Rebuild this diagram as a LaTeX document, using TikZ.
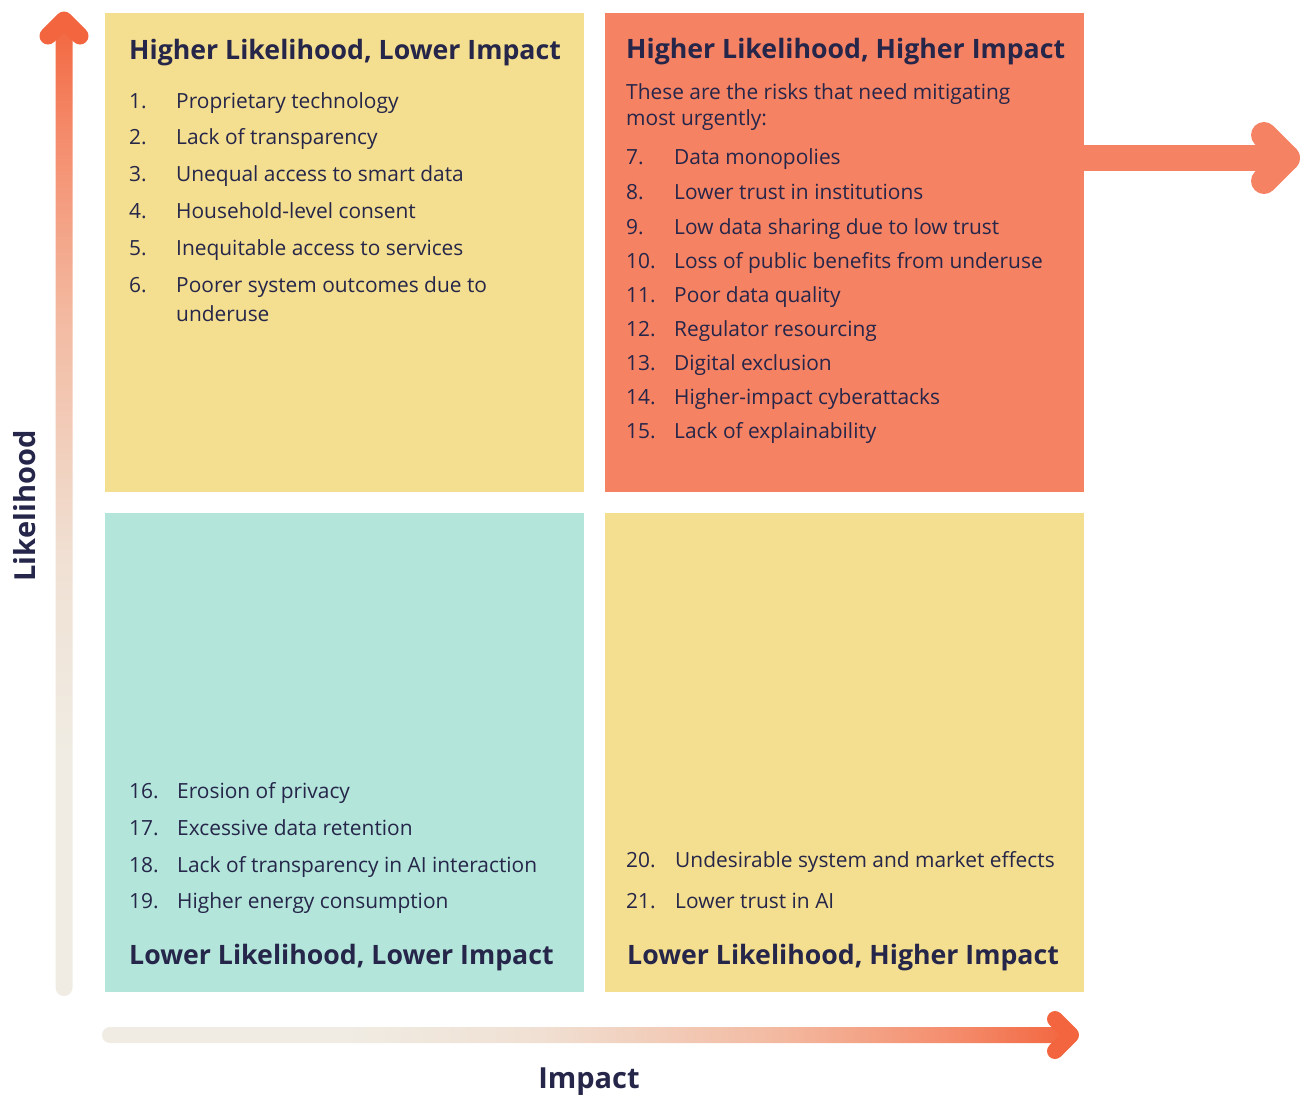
\documentclass[tikz,border=0pt]{standalone}
\usepackage{fontspec}
\setmainfont{Open Sans}
\usepackage{tikz}

\definecolor{ink}{HTML}{252649}
\definecolor{riskyellow}{HTML}{F4DE8F}
\definecolor{risksalmon}{HTML}{F68264}
\definecolor{riskmint}{HTML}{B3E5DA}
\definecolor{axisorange}{HTML}{F2653E}
\definecolor{axiscoral}{HTML}{F48C6C}
\definecolor{axissalmon}{HTML}{F3B9A0}
\definecolor{axispeach}{HTML}{F0E0D3}
\definecolor{axiscream}{HTML}{F0ECE3}

% fades along the two axes (the path fills the middle 50bp)
\pgfdeclarehorizontalshading{impactfade}{100bp}{color(0bp)=(axiscream); color(25bp)=(axiscream);
  color(37.5bp)=(axiscream); color(47.5bp)=(axispeach); color(60bp)=(axissalmon);
  color(69bp)=(axiscoral); color(75bp)=(axisorange); color(100bp)=(axisorange)}
\pgfdeclareverticalshading{likelihoodfade}{100bp}{color(0bp)=(axiscream); color(25bp)=(axiscream);
  color(37.5bp)=(axiscream); color(47.5bp)=(axispeach); color(60bp)=(axissalmon);
  color(69bp)=(axiscoral); color(75bp)=(axisorange); color(100bp)=(axisorange)}

\tikzset{
  quad/.style={minimum width=479pt, minimum height=479pt, inner sep=0pt, outer sep=0pt},
  quadtitle/.style={anchor=base west, inner sep=0pt, text=ink, font=\bfseries\fontsize{26.7}{30}\selectfont},
  item/.style={anchor=base west, inner sep=0pt, text=ink, font=\fontsize{20.9}{29}\selectfont},
  axislabel/.style={inner sep=0pt, text=ink, font=\bfseries\fontsize{29}{32}\selectfont},
  barb/.style={line width=#1, line cap=round, line join=round},
}

\begin{document}
\begin{tikzpicture}[x=1pt, y=-1pt]
  \useasboundingbox (0,0) rectangle (1301,1098);

  % quadrants
  \node[quad, fill=riskyellow] (hllo) at (344.5,252.5) {};
  \node[quad, fill=risksalmon] (hlhi) at (844.5,252.5) {};
  \node[quad, fill=riskmint]   (lllo) at (344.5,752.5) {};
  \node[quad, fill=riskyellow] (llhi) at (844.5,752.5) {};

  % arrow out of the urgent quadrant
  \coordinate (urgtip) at (1287,158);
  \draw[barb=26pt, risksalmon] (hlhi.east |- urgtip) -- (urgtip);
  \draw[barb=26pt, risksalmon] (1264,135) -- (urgtip) -- (1264,181);

  % likelihood axis
  \shade[shading=likelihoodfade, rounded corners=8.5pt]
    (55.5,20) rectangle (72.5,996);
  \coordinate (ytip) at (64,20);
  \draw[barb=17pt, axisorange] (48,36) -- (ytip) -- (80,36);
  \node[axislabel, rotate=90] (ylab) at (25,506) {Likelihood};

  % impact axis
  \shade[shading=impactfade, rounded corners=8pt]
    (102,1027) rectangle (1071,1043);
  \coordinate (xtip) at (1071,1035);
  \draw[barb=16pt, axisorange] (1055,1019) -- (xtip) -- (1055,1051);
  \node[axislabel] (xlab) at (589,1082) {Impact};

  % higher likelihood, lower impact
  \node[quadtitle] (hllot) at (129,59) {Higher Likelihood, Lower Impact};
  \foreach \k/\y/\t in {1/108/Proprietary technology, 2/144/Lack of transparency,
      3/181/Unequal access to smart data, 4/218/Household-level consent,
      5/255/Inequitable access to services}{
    \node[item] (hlloN\k) at (129,\y) {\k.};
    \node[item] (hllo\k) at (176,\y) {\t};
  }
  \node[item] (hlloN6) at (129,292) {6.};
  \node[item, align=left] (hllo6) at (176,321)
    {Poorer system outcomes due to\\underuse};

  % higher likelihood, higher impact
  \node[quadtitle] (hlhit) at (626,58) {Higher Likelihood, Higher Impact};
  \node[item, font=\fontsize{20.9}{26}\selectfont, align=left] (hlhip) at (626,125)
    {These are the risks that need mitigating\\most urgently:};
  \foreach \k/\y/\t in {7/164/Data monopolies, 8/199/Lower trust in institutions,
      9/234/Low data sharing due to low trust, 10/268/Loss of public benefits from underuse,
      11/302/Poor data quality, 12/336/Regulator resourcing,
      13/370/Digital exclusion, 14/404/Higher-impact cyberattacks,
      15/438/Lack of explainability}{
    \node[item] (hlhiN\k) at (626,\y) {\k.};
    \node[item] (hlhi\k) at (674,\y) {\t};
  }

  % lower likelihood, lower impact
  \foreach \k/\y/\t in {16/798/Erosion of privacy, 17/835/Excessive data retention,
      18/872/Lack of transparency in AI interaction, 19/908/Higher energy consumption}{
    \node[item] (llloN\k) at (129,\y) {\k.};
    \node[item] (lllo\k) at (177,\y) {\t};
  }
  \node[quadtitle] (lllot) at (129,964) {Lower Likelihood, Lower Impact};

  % lower likelihood, higher impact
  \foreach \k/\y/\t in {20/867/Undesirable system and market effects, 21/908/Lower trust in AI}{
    \node[item] (llhiN\k) at (626,\y) {\k.};
    \node[item] (llhi\k) at (675,\y) {\t};
  }
  \node[quadtitle] (llhit) at (627,964) {Lower Likelihood, Higher Impact};
\end{tikzpicture}
\end{document}
